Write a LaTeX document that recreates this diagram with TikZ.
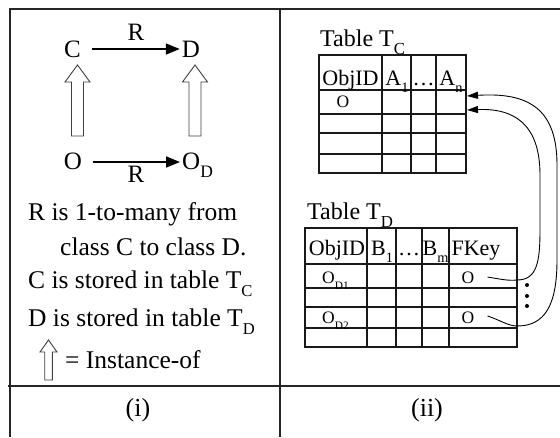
\documentclass[tikz,border=0pt]{standalone}
\usepackage{fontspec}
\usepackage{graphicx}
\setmainfont{Liberation Serif}
\usetikzlibrary{arrows.meta,calc}
\newcommand{\lsub}[1]{\raisebox{-0.35em}{\scalebox{0.65}{#1}}}
\newcommand{\tsub}[1]{\raisebox{-0.35em}{\scalebox{0.7}{#1}}}
\begin{document}
\begin{tikzpicture}[x=1pt,y=-1pt,
  frame/.style={line width=1.4pt, draw=black!85},
  grid/.style={line width=1.1pt, draw=black!90},
  rel/.style={line width=1.6pt,-{Triangle[length=14pt,width=11pt]}},
  hollow/.style={draw=black!75, line width=0.9pt, fill=white},
  ref/.style={line width=0.9pt,-{Triangle[length=11pt,width=7pt]}},
  big/.style={font=\fontsize{25}{25}\selectfont, inner sep=0pt, anchor=base},
  txt/.style={font=\fontsize{25.5}{25.5}\selectfont, inner sep=0pt, anchor=base west},
  ttl/.style={font=\fontsize{24}{24}\selectfont, inner sep=0pt, anchor=base west},
  hdr/.style={font=\fontsize{22}{22}\selectfont, inner sep=0pt, anchor=base},
  cell/.style={font=\fontsize{17.5}{17.5}\selectfont, inner sep=0pt, anchor=base},
  captxt/.style={font=\fontsize{26}{26}\selectfont, inner sep=0pt, anchor=center},
]
\useasboundingbox (0,0) rectangle (560,437);
\fill[white] (0,0) rectangle (560,437);
% frame
\draw[frame] (10,437) -- (10,9) -- (560,9);
\draw[frame] (8,386) -- (560,386);
\draw[frame] (280,9) -- (280,437);

% ---------- panel (i)
\node[big] (C) at (72.5,57) {C};
\node[big] (D) at (191,57) {D};
\node[big] (O) at (73,169) {O};
\node[big, anchor=base west] (OD) at (182,169) {O\tsub{D}};
\node[big] (R1) at (136,40) {R};
\node[big] (R2) at (136,182) {R};
\draw[rel] ($(C.base east)+(11,-8)$) -- ($(D.base west)+(-2,-8)$);
\draw[rel] ($(O.base east)+(10.5,-7)$) -- ($(OD.base west)+(-2,-7)$);
% instance-of arrows
\draw[hollow, shift={(77.5,65)}] (0,0) -- (12.5,17) -- (6,17) -- (6,71) -- (-6,71) -- (-6,17) -- (-12.5,17) -- cycle;
\draw[hollow, shift={(195,65)}] (0,0) -- (12.5,17) -- (6,17) -- (6,71) -- (-6,71) -- (-6,17) -- (-12.5,17) -- cycle;

\node[txt] (l1) at (28,220) {R is 1-to-many from};
\node[txt] (l2) at (60,255) {class C to class D.};
\node[txt] (l3) at (28,288) {C is stored in table T\lsub{C}};
\node[txt] (l4) at (28,326) {D is stored in table T\lsub{D}};
\draw[hollow, shift={(48.5,340)}] (0,0) -- (8.5,12) -- (3.8,12) -- (3.8,40) -- (-3.8,40) -- (-3.8,12) -- (-8.5,12) -- cycle;
\node[txt] (l5) at (65,368) {= Instance-of};
\node[captxt] (capi) at (138,410) {(i)};

% ---------- panel (ii)
\node[ttl] (ttc) at (320,46) {Table T\tsub{C}};
\draw[grid] (319,55) rectangle (466,173);
\foreach \y in {90,114,133,154} \draw[grid] (319,\y) -- (466,\y);
\foreach \x in {382,411,436} \draw[grid] (\x,55) -- (\x,173);
\node[hdr] (hc1) at (350.5,85) {ObjID};
\node[hdr] (hc2) at (397,85) {A\lsub{1}};
\node[hdr] (hc3) at (423.5,85) {\dots};
\node[hdr] (hc4) at (451,85) {A\lsub{n}};
\node[cell] (oc) at (343,107) {O};

\node[ttl] (ttd) at (307,219) {Table T\tsub{D}};
\draw[grid] (305,228) rectangle (517,347);
\foreach \y in {264,288,307,328} \draw[grid] (305,\y) -- (517,\y);
\foreach \x in {367,396,422,449} \draw[grid] (\x,228) -- (\x,347);
\node[hdr] (hd1) at (337,255) {ObjID};
\node[hdr] (hd2) at (382,255) {B\lsub{1}};
\node[hdr] (hd3) at (409,255) {\dots};
\node[hdr] (hd4) at (435.5,255) {B\lsub{m}};
\node[hdr] (hd5) at (476,255) {FKey};
\node[cell, anchor=base west] (od1) at (322,283) {O\lsub{D1}};
\node[cell, anchor=base west] (od2) at (322,323) {O\lsub{D2}};
\node[cell] (fk1) at (468,283) {O};
\node[cell] (fk2) at (468,323) {O};

\coordinate (tc1) at (467,110);
\coordinate (tc2) at (467,96);
\draw[ref] ($(fk1.base east)+(13,-6)$) .. controls (500,279) and (508,281) .. (517,280)
  .. controls (537,280) and (540,262) .. (540,230) -- (540,175)
  .. controls (540,125) and (515,108) .. (tc1);
\draw[ref] ($(fk2.base east)+(13,-7)$) .. controls (500,320) and (508,326) .. (517,326)
  .. controls (545,326) and (557,305) .. (557,260) -- (557,165)
  .. controls (557,110) and (530,92) .. (tc2);
\foreach \yy in {285,296,306} \fill (527,\yy) circle (2pt);
\node[captxt] (capii) at (427,410) {(ii)};
\end{tikzpicture}
\end{document}
